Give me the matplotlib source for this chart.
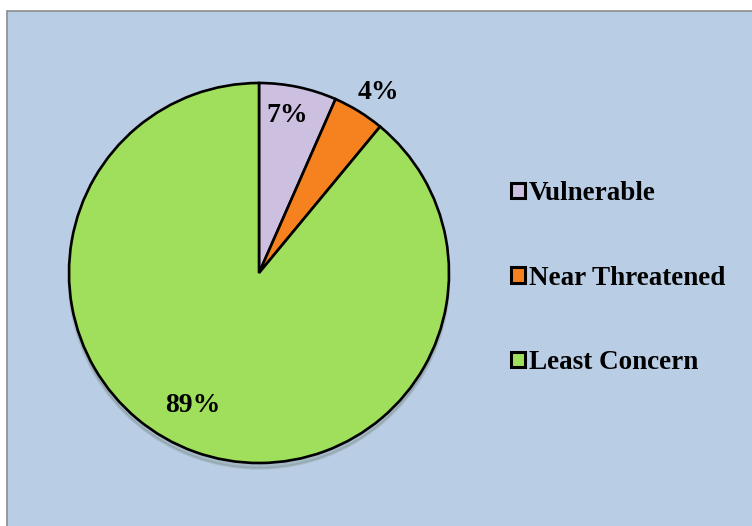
import matplotlib.pyplot as plt
from matplotlib.patches import Rectangle

# conservation status shares (percent)
categories = ["Vulnerable", "Near Threatened", "Least Concern"]
shares = [6.6, 4.4, 89.0]
colors = ["#CDBFDF", "#F5821F", "#9FDF5B"]

plt.rcParams['font.family'] = ['Liberation Serif', 'DejaVu Serif']

W, H = 752, 526
fig = plt.figure(figsize=(W / 100, H / 100), dpi=100)
fig.patch.set_facecolor("white")

# blue chart area with grey frame, drawn in a background axes
bg = fig.add_axes([0, 0, 1, 1], zorder=-1)
bg.set_axis_off()
bg.set_xlim(0, W)
bg.set_ylim(H, 0)
bg.add_patch(Rectangle((7, 11), W + 20, H + 20, facecolor="#B9CDE5",
                       edgecolor="#8C8C8C", linewidth=1.2))

# pie axes: centre (259,273) px, radius 190 px
cx, cy, r = 259, 273, 190
ax = fig.add_axes([(cx - r) / W, (H - cy - r) / H, 2 * r / W, 2 * r / H])
ax.set_facecolor("none")

wedges, texts, autotexts = ax.pie(
    shares, colors=colors, startangle=90, counterclock=False,
    autopct='%.0f%%', pctdistance=0.8, shadow=dict(ox=0.0, oy=-0.02, alpha=0.15),
    wedgeprops=dict(edgecolor="black", linewidth=1.9))
ax.set_xlim(-1, 1)
ax.set_ylim(-1, 1)

# place percentage labels like the original
label_pos = [(0.15, 0.83), (0.63, 0.95), (-0.35, -0.7)]
for t, (x, y) in zip(autotexts, label_pos):
    t.set_position((x, y))
    t.set_fontsize(20)
    t.set_fontweight("bold")
    t.set_ha("center")
    t.set_va("center")
    t.set_clip_on(False)

leg = fig.legend(wedges, categories, loc="upper left",
                 bbox_to_anchor=(492 / W, 1 - 162 / H), frameon=False,
                 prop=dict(size=19.5, weight="bold"), labelspacing=2.2,
                 handlelength=0.5, handleheight=0.5, handletextpad=0.15,
                 borderpad=0.2)
for h in leg.legend_handles:
    h.set_linewidth(2.2)

plt.savefig("out.png", dpi=100, facecolor=fig.get_facecolor())
